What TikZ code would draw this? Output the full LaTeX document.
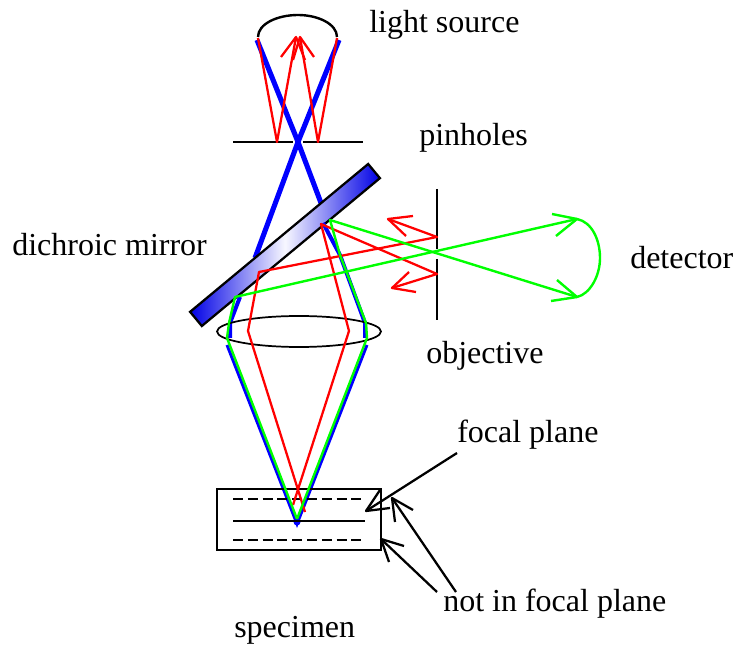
\documentclass[tikz,border=0pt]{standalone}
\usepackage{fontspec}
\setmainfont{Liberation Serif}
\tikzset{
  label/.style={font=\fontsize{24}{28}\selectfont,inner sep=0pt},
  bluebeam/.style={draw=blue,line width=3.8pt},
  thinblue/.style={draw=blue,line width=2.2pt},
  redray/.style={draw=red,line width=1.7pt,line join=round},
  greenray/.style={draw=green,line width=1.8pt,line join=round},
  blackline/.style={draw=black,line width=1.4pt},
  pointer/.style={draw=black,line width=1.7pt,line join=round},
  dashline/.style={draw=black,line width=1.4pt,dash pattern=on 7.5pt off 3.6pt}
}
\begin{document}
\begin{tikzpicture}[x=0.75pt,y=-0.75pt]
\useasboundingbox (0,0) rectangle (736,645);
% light source and the two pinholes
\coordinate (LL) at (257,40);
\coordinate (LR) at (339,40);
\coordinate (X) at (298,142);
\draw[blackline,line width=1.8pt] (258,37) .. controls (258,24) and (277,15) .. (298,15) .. controls (318,15) and (337,24) .. (337,37);
\draw[blackline] (233,142)--(293,142);
\draw[blackline] (303,142)--(363,142);
\draw[blackline] (437,189)--(437,249);
\draw[blackline] (437,259)--(437,320);
% excitation beam above the mirror
\draw[bluebeam] (LL)--(X)--(321,203);
\draw[bluebeam] (LR)--(X)--(255,258);
% mirror
\node[draw=black,line width=1.7pt,minimum width=173.6pt,minimum height=13.8pt,inner sep=0pt,rotate=39.7,left color=blue!90!black,right color=blue!90!black,middle color=blue!3] (mirror) at (285,245) {};
% beam below the mirror
\draw[bluebeam,line width=3pt] (240,297)--(230,323)--(230,338);
\draw[bluebeam,line width=3pt] (323,223)--(340,255)--(365,323)--(365,338);
\draw[thinblue] (227,345)--(297,524)--(367,345);
\fill[blue] (297,522) circle (3.5);
\draw[black,line width=1.3pt] (299,331.5) ellipse (82 and 15.5);
% specimen
\draw[blackline] (217,489) rectangle (381,550);
\draw[dashline] (233,499)--(365,499);
\draw[blackline] (233,521)--(365,521);
\draw[dashline] (233,540)--(365,540);
% red rays
\draw[redray] (281,57)--(296,37)--(305,60);
\draw[redray] (314,57)--(300,37)--(293,60);
\draw[redray] (296,37)--(277,142)--(258,38);
\draw[redray] (300,37)--(318,142)--(337,38);
\draw[redray] (305,512)--(248,331)--(259,272)--(437,237)--(388,219);
\draw[redray] (413,216)--(388,219)--(406,236);
\draw[redray] (293,505)--(349,331)--(321,224)--(437,274)--(392,288);
\draw[redray] (409,272)--(392,288)--(416,292);
% green rays
\draw[greenray] (297,519)--(227,338)--(229,323)--(235,297)--(577,219);
\draw[greenray] (297,519)--(367,338)--(366,323)--(340,255)--(330,220)--(577,297);
\draw[greenray] (552,214)--(577,219)--(556,236);
\draw[greenray] (557,280)--(577,297)--(551,301);
\draw[greenray] (577,219) .. controls (592,222) and (600,240) .. (600,258) .. controls (600,276) and (590,294) .. (577,297);
% pointers
\draw[pointer] (457,453)--(366,511);
\draw[pointer] (380,490)--(366,511)--(390,508);
\draw[pointer] (456,592)--(392,498);
\draw[pointer] (413,510)--(392,498)--(395,522);
\draw[pointer] (437,592)--(381,539);
\draw[pointer] (404,546)--(381,539)--(389,562);
% labels
\node[label,anchor=base west] (lightlabel) at (369,33) {light source};
\node[label,anchor=base west] (pinholelabel) at (419,146) {pinholes};
\node[label,anchor=base west] (mirrorlabel) at (12,256) {dichroic mirror};
\node[label,anchor=base west] (detectorlabel) at (630,269) {detector};
\node[label,anchor=base west] (objectivelabel) at (426,364) {objective};
\node[label,anchor=base west] (focallabel) at (457,442) {focal plane};
\node[label,anchor=base west] (notfocallabel) at (443,611) {not in focal plane};
\node[label,anchor=base west] (specimenlabel) at (234,637.5) {specimen};
\end{tikzpicture}
\end{document}
